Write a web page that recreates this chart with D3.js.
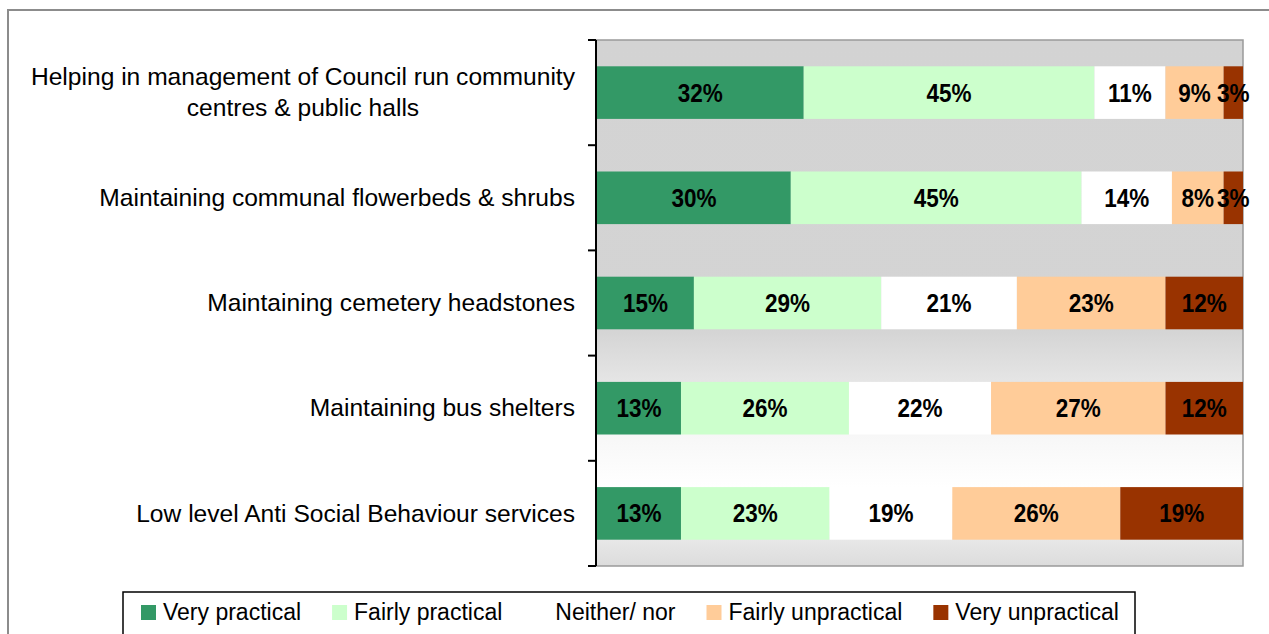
<!DOCTYPE html>
<html>
<head>
<meta charset="utf-8">
<script src="https://cdn.jsdelivr.net/npm/d3@7"></script>
<style>
  html, body { margin: 0; padding: 0; background: #ffffff; }
  svg { display: block; font-family: "Liberation Sans", Arial, sans-serif; }
</style>
</head>
<body>
<svg id="chart" width="1269" height="634"></svg>
<script>
// Survey statements (top to bottom), with line breaks for the axis labels
const categories = [
  ["Helping in management of Council run community", "centres & public halls"],
  ["Maintaining communal flowerbeds & shrubs"],
  ["Maintaining cemetery headstones"],
  ["Maintaining bus shelters"],
  ["Low level Anti Social Behaviour services"]
];

// Response options in stacking order
const seriesNames = ["Very practical", "Fairly practical", "Neither/ nor", "Fairly unpractical", "Very unpractical"];
const seriesColors = ["#339966", "#CCFFCC", "#FFFFFF", "#FFCC99", "#993300"];

// Percentage of respondents per statement, one array per response option
const veryPractical      = [32, 30, 15, 13, 13];
const fairlyPractical    = [45, 45, 29, 26, 23];
const neitherNor         = [11, 14, 21, 22, 19];
const fairlyUnpractical  = [9, 8, 23, 27, 26];
const veryUnpractical    = [3, 3, 12, 12, 19];

const seriesValues = [veryPractical, fairlyPractical, neitherNor, fairlyUnpractical, veryUnpractical];

const svg = d3.select("#chart");

// Outer chart frame
svg.append("rect")
  .attr("x", 8).attr("y", 10)
  .attr("width", 1300).attr("height", 700)
  .attr("fill", "#ffffff")
  .attr("stroke", "#8c8c8c").attr("stroke-width", 2);

const plot = { left: 596, right: 1243, top: 40, bottom: 566 };

// Plot area background: grey fading to white near the bottom
const defs = svg.append("defs");
const grad = defs.append("linearGradient")
  .attr("id", "plotBg").attr("x1", 0).attr("y1", 0).attr("x2", 0).attr("y2", 1);
[[0, "#d3d3d3"], [0.55, "#d4d4d4"], [0.75, "#f7f7f7"], [0.85, "#ffffff"], [1, "#dcdcdc"]]
  .forEach(([o, c]) => grad.append("stop").attr("offset", o).attr("stop-color", c));

svg.append("rect")
  .attr("x", plot.left).attr("y", plot.top)
  .attr("width", plot.right - plot.left).attr("height", plot.bottom - plot.top)
  .attr("fill", "url(#plotBg)")
  .attr("stroke", "#9a9a9a").attr("stroke-width", 1.5);

const x = d3.scaleLinear().domain([0, 100]).range([plot.left + 1, plot.right]);
const y = d3.scaleBand()
  .domain(d3.range(categories.length))
  .range([plot.top, plot.bottom])
  .paddingInner(0.5).paddingOuter(0.25);

// Stack the series
const rows = categories.map((c, i) => {
  const r = { idx: i };
  seriesNames.forEach((s, k) => { r[s] = seriesValues[k][i]; });
  return r;
});
const stacked = d3.stack().keys(seriesNames)(rows);

const layers = svg.append("g").selectAll("g")
  .data(stacked).join("g")
  .attr("fill", (d, k) => seriesColors[k]);

layers.selectAll("rect")
  .data(d => d).join("rect")
  .attr("x", d => x(d[0]))
  .attr("y", d => y(d.data.idx))
  .attr("width", d => x(d[1]) - x(d[0]))
  .attr("height", y.bandwidth());

// Value labels centred in each segment (slightly condensed bold)
const labels = svg.append("g");
stacked.forEach(layer => {
  labels.selectAll(null)
    .data(layer).join("text")
    .attr("transform", d => `translate(${(x(d[0]) + x(d[1])) / 2},${y(d.data.idx) + y.bandwidth() / 2}) scale(0.9,1)`)
    .attr("dy", "0.36em")
    .attr("text-anchor", "middle")
    .attr("font-size", 25)
    .attr("font-weight", "bold")
    .attr("fill", "#000000")
    .text(d => (d[1] - d[0]) + "%");
});

// Category axis with outward ticks at band boundaries
const yAxis = svg.append("g");
yAxis.append("line")
  .attr("x1", plot.left).attr("x2", plot.left)
  .attr("y1", plot.top).attr("y2", plot.bottom)
  .attr("stroke", "#000").attr("stroke-width", 2);
const step = (plot.bottom - plot.top) / categories.length;
yAxis.selectAll("line.tick")
  .data(d3.range(categories.length + 1)).join("line")
  .attr("class", "tick")
  .attr("x1", plot.left - 8).attr("x2", plot.left)
  .attr("y1", i => plot.top + i * step).attr("y2", i => plot.top + i * step)
  .attr("stroke", "#000").attr("stroke-width", 2);

// Category labels: block right-aligned to the axis, lines centred within the block
const labelRight = 575;
const lineH = 31;
const catG = svg.append("g").attr("font-size", 24.6).attr("fill", "#000");
categories.forEach((lines, i) => {
  const cy = y(i) + y.bandwidth() / 2;
  const t = catG.append("text").attr("text-anchor", "middle");
  const spans = lines.map((ln, j) => t.append("tspan")
    .attr("y", cy + (j - (lines.length - 1) / 2) * lineH)
    .attr("dy", "0.33em")
    .text(ln));
  const maxW = d3.max(spans, s => s.node().getComputedTextLength());
  spans.forEach(s => s.attr("x", labelRight - maxW / 2));
});

// Legend
const legend = svg.append("g");
legend.append("rect")
  .attr("x", 123).attr("y", 592)
  .attr("width", 1012).attr("height", 80)
  .attr("fill", "#ffffff")
  .attr("stroke", "#000").attr("stroke-width", 1.5);

let lx = 141;
seriesNames.forEach((name, k) => {
  legend.append("rect")
    .attr("x", lx).attr("y", 605)
    .attr("width", 15).attr("height", 15)
    .attr("fill", seriesColors[k]);
  const t = legend.append("text")
    .attr("x", lx + 22).attr("y", 620)
    .attr("font-size", 23)
    .attr("fill", "#000")
    .text(name);
  lx += 22 + t.node().getComputedTextLength() + 31;
});
</script>
</body>
</html>
